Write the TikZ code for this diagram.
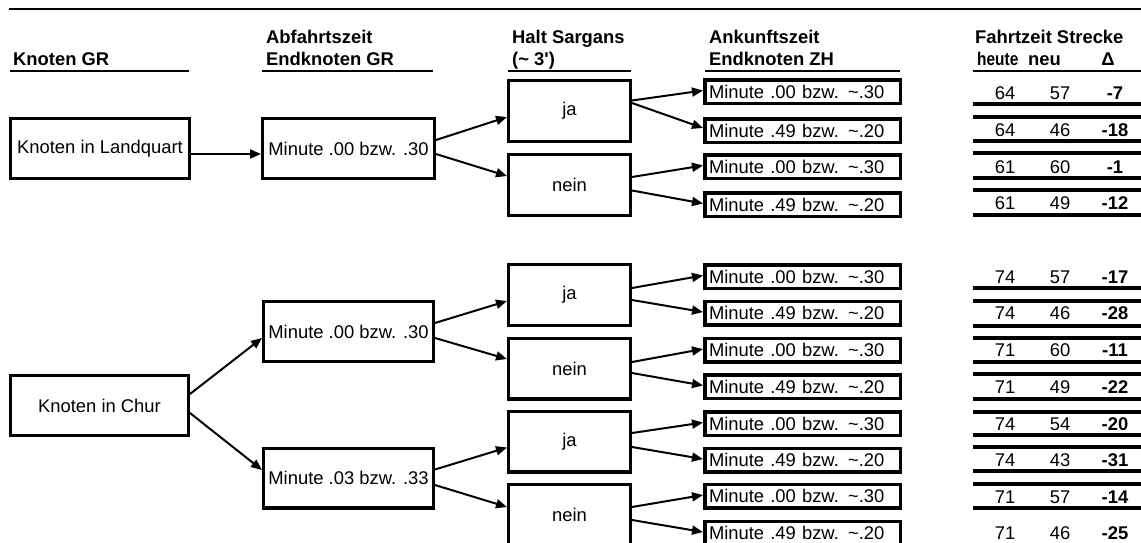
\documentclass[tikz,border=0pt]{standalone}
\usepackage{fontspec}
\setmainfont{Liberation Sans}
\usetikzlibrary{arrows.meta,calc}
\newcommand\dfont{\fontsize{18.4pt}{22pt}\selectfont}
\begin{document}
\begin{tikzpicture}[
  x=1pt, y=-1pt,
  every node/.style={font=\dfont, text=black},
  bigbox/.style={draw, line width=3.3pt, inner sep=0pt, minimum height=59.7pt},
  haltbox/.style={draw, line width=3.3pt, inner sep=0pt, minimum width=121.7pt, minimum height=60.7pt},
  arrbox/.style={draw, line width=3.5pt, inner xsep=4.25pt, inner ysep=0pt, minimum height=23.5pt, text width=187pt, align=left},
  hdr/.style={font=\dfont\bfseries, anchor=base west, inner sep=0pt},
  conn/.style={line width=2pt, -{Triangle[length=11pt,width=9pt]}},
  rowrule/.style={line width=3.3pt},
  uline/.style={line width=1.7pt},
  cell/.style={inner sep=0pt},
  dcell/.style={inner sep=0pt, font=\dfont\bfseries},
]
\useasboundingbox (0,0) rectangle (1141,542);
\clip (0,0) rectangle (1141,542);

% top rule and headers
\draw[line width=1.5pt] (9,9) -- (1141,9);
\node[hdr] (h1) at (13,65) {Knoten GR};
\node[hdr] (h2a) at (266,43) {Abfahrtszeit};
\node[hdr] (h2b) at (266,65) {Endknoten GR};
\node[hdr] (h3a) at (512,43) {Halt Sargans};
\node[hdr] (h3b) at (512,65) {(\textasciitilde{} 3\textquotesingle)};
\node[hdr] (h4a) at (709,43) {Ankunftszeit};
\node[hdr] (h4b) at (709,65) {Endknoten ZH};
\node[hdr] (h5a) at (975,43) {Fahrtzeit Strecke};
\node[hdr] (h5b) at (977,65) {\scalebox{0.84}[1]{heute}};
\node[hdr] (h5c) at (1028,65) {neu};
\node[hdr, anchor=base] (h5d) at (1108,65) {Δ};
\draw[uline] (10,71) -- (189,71);
\draw[uline] (262,71) -- (433,71);
\draw[uline] (508,71) -- (631,71);
\draw[uline] (705,71) -- (900,71);
\draw[uline] (973,71) -- (1141,71);

% ---------- group Landquart ----------
\node[bigbox, minimum width=178.7pt] (LQ) at (100,148.5) {Knoten in Landquart};
\node[bigbox, minimum width=171.7pt] (G0) at (348.5,148.5) {Minute .00 bzw. .30};
\node[haltbox] (J0) at (569.5,111) {ja};
\node[haltbox] (N0) at (569.5,185) {nein};
\node[arrbox] (A01) at (802.5,91.5) {Minute .00 bzw. \textasciitilde.30};
\node[arrbox] (A02) at (802.5,130.5) {Minute .49 bzw. \textasciitilde.20};
\node[arrbox] (A03) at (802.5,166.5) {Minute .00 bzw. \textasciitilde.30};
\node[arrbox] (A04) at (802.5,204.5) {Minute .49 bzw. \textasciitilde.20};

\draw[conn] ($(LQ.east)+(0,5.5)$) -- ($(G0.west)+(0,5.5)$);
\draw[conn] ($(G0.east)+(0,-8.5)$) -- ($(J0.west)+(0,6)$);
\draw[conn] ($(G0.east)+(0,5.5)$) -- ($(N0.west)+(0,-9)$);
\draw[conn] ($(J0.east)+(0,-10.5)$) -- ($(A01.west)+(0,-1)$);
\draw[conn] ($(J0.east)+(0,-8)$) -- ($(A02.west)+(0,-2.5)$);
\draw[conn] ($(N0.east)+(0,-8)$) -- ($(A03.west)+(0,-1)$);
\draw[conn] ($(N0.east)+(0,5.5)$) -- ($(A04.west)+(0,-1)$);

% ---------- group Chur ----------
\node[bigbox, minimum width=177.7pt] (CH) at (99.5,405.5) {Knoten in Chur};
\node[bigbox, minimum width=169.7pt] (G1) at (348.5,331.5) {Minute .00 bzw. .30};
\node[bigbox, minimum width=169.7pt] (G2) at (348.5,478) {Minute .03 bzw. .33};
\node[haltbox] (J1) at (569.5,295) {ja};
\node[haltbox] (N1) at (569.5,368.5) {nein};
\node[haltbox] (J2) at (569.5,441.5) {ja};
\node[haltbox] (N2) at (569.5,515) {nein};
\node[arrbox] (A11) at (802.5,276.5) {Minute .00 bzw. \textasciitilde.30};
\node[arrbox] (A12) at (802.5,313) {Minute .49 bzw. \textasciitilde.20};
\node[arrbox] (A13) at (802.5,350) {Minute .00 bzw. \textasciitilde.30};
\node[arrbox] (A14) at (802.5,386.5) {Minute .49 bzw. \textasciitilde.20};
\node[arrbox] (A15) at (802.5,423.5) {Minute .00 bzw. \textasciitilde.30};
\node[arrbox] (A16) at (802.5,460) {Minute .49 bzw. \textasciitilde.20};
\node[arrbox] (A17) at (802.5,496) {Minute .00 bzw. \textasciitilde.30};
\node[arrbox] (A18) at (802.5,533) {Minute .49 bzw. \textasciitilde.20};

\draw[conn] ($(CH.east)+(0,-11.5)$) -- ($(G1.west)+(0,6.5)$);
\draw[conn] ($(CH.east)+(0,7.5)$) -- ($(G2.west)+(0,-8)$);
\draw[conn] ($(G1.east)+(0,-8.5)$) -- ($(J1.west)+(0,6)$);
\draw[conn] ($(G1.east)+(0,6.5)$) -- ($(N1.west)+(0,-9.5)$);
\draw[conn] ($(G2.east)+(0,-8.5)$) -- ($(J2.west)+(0,6)$);
\draw[conn] ($(G2.east)+(0,7)$) -- ($(N2.west)+(0,-8)$);
\draw[conn] ($(J1.east)+(0,-7)$) -- ($(A11.west)+(0,-1)$);
\draw[conn] ($(J1.east)+(0,5)$) -- ($(A12.west)+(0,-1)$);
\draw[conn] ($(N1.east)+(0,-6.5)$) -- ($(A13.west)+(0,-1)$);
\draw[conn] ($(N1.east)+(0,4.5)$) -- ($(A14.west)+(0,-1)$);
\draw[conn] ($(J2.east)+(0,-8.5)$) -- ($(A15.west)+(0,-1)$);
\draw[conn] ($(J2.east)+(0,5.5)$) -- ($(A16.west)+(0,-1)$);
\draw[conn] ($(N2.east)+(0,-8)$) -- ($(A17.west)+(0,-1)$);
\draw[conn] ($(N2.east)+(0,5)$) -- ($(A18.west)+(0,-1)$);

% ---------- table ----------
\foreach \i/\yy/\a/\b/\c in {1/93/64/57/-7, 2/130/64/46/-18, 3/167/61/60/-1, 4/203/61/49/-12,
  5/277/74/57/-17, 6/313/74/46/-28, 7/350/71/60/-11, 8/387/71/49/-22,
  9/424/74/54/-20, 10/460/74/43/-31, 11/497/71/57/-14, 12/533/71/46/-25} {
  \node[cell] (ta\i) at (1005,\yy) {\a};
  \node[cell] (tb\i) at (1060,\yy) {\b};
  \node[dcell] (tc\i) at (1115,\yy) {\c};
}
\foreach \yy in {104,117,141,153,178,190,215,
  288,301,326,338,362,374,399,412,435,447,471,484,508} {
  \draw[rowrule] (973,\yy) -- (1141,\yy);
}
\end{tikzpicture}
\end{document}
